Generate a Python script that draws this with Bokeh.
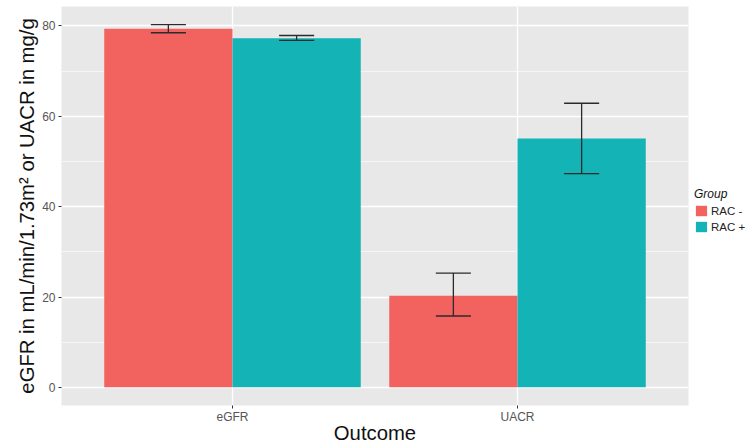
from bokeh.plotting import figure
from bokeh.models import (ColumnDataSource, FactorRange, Range1d, Legend, LegendItem,
                          SingleIntervalTicker)
from bokeh.transform import dodge
from bokeh.embed import file_html
from bokeh.resources import INLINE

# ---- data ----
outcomes = ["eGFR", "UACR"]
groups = ["RAC -", "RAC +"]
rac_neg_mean = [79.4, 20.3]
rac_neg_lower = [78.5, 15.8]
rac_neg_upper = [80.3, 25.3]
rac_pos_mean = [77.3, 55.1]
rac_pos_lower = [76.8, 47.3]
rac_pos_upper = [77.9, 62.9]
y_tick_interval = 20

# ---- styling ----
FONT = "Liberation Sans"
RED = "#F2625F"
TEAL = "#13B3B6"
PANEL = "#E8E8E8"
BAR_W = 0.45
CAP_HALF = 0.0615

ymax = max(rac_neg_upper + rac_pos_upper)
pad = 0.05 * ymax

p = figure(
    x_range=FactorRange(factors=outcomes, range_padding=0.1),
    y_range=Range1d(-pad, ymax + pad),
    frame_width=627, frame_height=399,
    min_border_left=61, min_border_top=6, min_border_bottom=0, min_border_right=0,
    output_backend="svg", toolbar_location=None,
    background_fill_color=PANEL, border_fill_color="white",
)
p.outline_line_color = None

src_neg = ColumnDataSource(dict(outcome=outcomes, mean=rac_neg_mean,
                                lower=rac_neg_lower, upper=rac_neg_upper))
src_pos = ColumnDataSource(dict(outcome=outcomes, mean=rac_pos_mean,
                                lower=rac_pos_lower, upper=rac_pos_upper))

renderers = []
for src, off, col in [(src_neg, -BAR_W / 2, RED), (src_pos, BAR_W / 2, TEAL)]:
    r = p.vbar(x=dodge("outcome", off, range=p.x_range), top="mean", bottom=0,
               width=BAR_W, source=src, fill_color=col, line_color=None)
    renderers.append(r)
    # error bars
    p.segment(x0=dodge("outcome", off, range=p.x_range), y0="lower",
              x1=dodge("outcome", off, range=p.x_range), y1="upper",
              source=src, line_color="#2b2b2b", line_width=1.3)
    p.segment(x0=dodge("outcome", off - CAP_HALF, range=p.x_range), y0="upper",
              x1=dodge("outcome", off + CAP_HALF, range=p.x_range), y1="upper",
              source=src, line_color="#2b2b2b", line_width=1.3)
    p.segment(x0=dodge("outcome", off - CAP_HALF, range=p.x_range), y0="lower",
              x1=dodge("outcome", off + CAP_HALF, range=p.x_range), y1="lower",
              source=src, line_color="#2b2b2b", line_width=1.3)

# ---- axes ----
p.yaxis.ticker = SingleIntervalTicker(interval=y_tick_interval, num_minor_ticks=2)
for ax in (p.xaxis[0], p.yaxis[0]):
    ax.axis_line_color = None
    ax.major_tick_line_color = "#333333"
    ax.major_tick_in = 0
    ax.major_tick_out = 3
    ax.minor_tick_line_color = None
    ax.major_label_text_font = FONT
    ax.major_label_text_font_size = "12px"
    ax.major_label_text_color = "#555555"
    ax.axis_label_text_font = FONT
    ax.axis_label_text_font_size = "20.3px"
    ax.axis_label_text_font_style = "normal"
    ax.axis_label_text_color = "#111111"

p.yaxis.major_label_standoff = 2
p.yaxis.axis_label_standoff = 1
p.xaxis.major_label_standoff = 1
p.xaxis.axis_label_standoff = -5

p.xaxis.axis_label = "Outcome"
p.yaxis.axis_label = "eGFR in mL/min/1.73m² or UACR in mg/g"

p.xgrid.grid_line_color = "white"
p.xgrid.grid_line_width = 1.3
p.ygrid.grid_line_color = "white"
p.ygrid.grid_line_width = 1.3
p.ygrid.minor_grid_line_color = "white"
p.ygrid.minor_grid_line_width = 0.6

# ---- legend (side panel, right of the plot area) ----
legend = Legend(
    items=[LegendItem(label=g, renderers=[r]) for g, r in zip(groups, renderers)],
    title="Group", location=(6, 172),
    title_text_font=FONT, title_text_font_size="12px", title_text_font_style="italic",
    title_text_color="#111111", title_standoff=3,
    label_text_font=FONT, label_text_font_size="11.5px", label_text_color="#222222",
    glyph_width=14, glyph_height=13, label_standoff=3, spacing=3,
    padding=6, margin=0, border_line_color=None, background_fill_alpha=0,
    label_height=13,
)
p.add_layout(legend, "right")

open("out.html", "w").write(file_html(p, INLINE))
